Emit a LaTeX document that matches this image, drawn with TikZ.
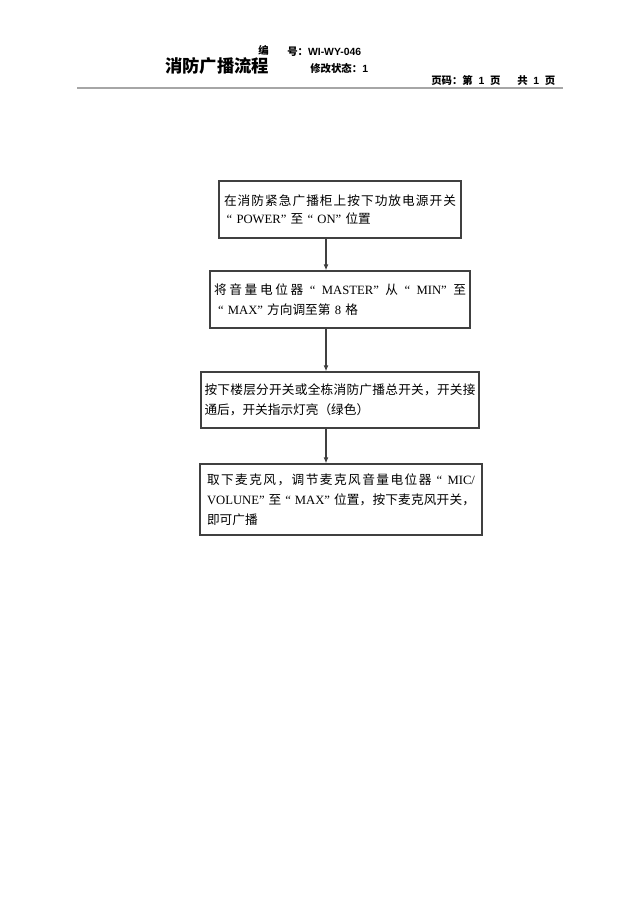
\documentclass[tikz,border=0pt]{standalone}
\usepackage{fontspec}
\setmainfont{Liberation Serif}
\newfontfamily\cjk{Noto Sans CJK SC}
\newfontfamily\hsans{Liberation Sans}
\usetikzlibrary{arrows.meta}
\newcommand{\zh}[1]{{\cjk #1}}
\newcommand{\sg}{\hspace{0pt plus 1fill}}
\newcommand{\sgs}{\hspace{0.3em plus 1fill}}
\newcommand{\spreadline}[2]{\leavevmode\hbox to #1{#2}}
\tikzset{
  flowbox/.style={draw=black!75, line width=0.9pt, rectangle, align=left,
    font=\fontsize{9.5pt}{15pt}\selectfont, inner ysep=0pt},
  flowarr/.style={draw=black!75, line width=0.8pt, -{Latex[length=4.5pt,width=3.6pt]}},
  headsmall/.style={font=\fontsize{7.8pt}{9pt}\selectfont\bfseries, inner sep=0pt, anchor=west},
}
\begin{document}
\begin{tikzpicture}[x=0.75pt,y=-0.75pt]
\useasboundingbox (0,0) rectangle (640,905);
\fill[white] (0,0) rectangle (640,905);

% header
\node[inner sep=0pt, anchor=west, font=\fontsize{13pt}{14pt}\selectfont\cjk\bfseries] (title) at (165,66) {消防广播流程};
\node[headsmall] (bian) at (258,50) {\cjk 编};
\node[headsmall] (hao) at (287,52) {{\cjk 号：}{\hsans WI-WY-046}};
\node[headsmall] (xiugai) at (310,68) {{\cjk 修改状态：}{\hsans 1}};
\node[headsmall] (yema) at (431,81) {\makebox[93pt][s]{{\cjk 页码：第} {\hsans 1} {\cjk 页} \hspace{4pt} {\cjk 共} {\hsans 1} {\cjk 页}}};
\coordinate (hl) at (77,88);
\coordinate (hr) at (563,88);
\draw[gray!70, line width=1.5pt] (hl) -- (hr);

% boxes
\node[flowbox, text width=174pt, inner xsep=3.75pt, minimum height=42.75pt,
  font=\fontsize{9.5pt}{14pt}\selectfont] (b1) at (340,209.5)
  {\spreadline{174pt}{\cjk 在\sg 消\sg 防\sg 紧\sg 急\sg 广\sg 播\sg 柜\sg 上\sg 按\sg 下\sg 功\sg 放\sg 电\sg 源\sg 开\sg 关}\\
   \hspace*{2pt}“ POWER” \zh{至} “ ON” \zh{位置}};

\node[flowbox, text width=189pt, inner xsep=3pt, minimum height=42.75pt] (b2) at (340,299.5)
  {\spreadline{189pt}{\zh{将}\sg\zh{音}\sg\zh{量}\sg\zh{电}\sg\zh{位}\sg\zh{器}\sgs “\sgs MASTER”\sgs\zh{从}\sgs “\sgs MIN”\sgs\zh{至}}\\
   \hspace*{3pt}“ MAX” \zh{方向调至第} 8 \zh{格}};

\node[flowbox, text width=203.25pt, inner xsep=2.6pt, minimum height=42pt] (b3) at (340,400)
  {\spreadline{203.25pt}{\cjk 按\sg 下\sg 楼\sg 层\sg 分\sg 开\sg 关\sg 或\sg 全\sg 栋\sg 消\sg 防\sg 广\sg 播\sg 总\sg 开\sg 关\sg ，\sg 开\sg 关\sg 接}\\
   \zh{通后，开关指示灯亮（绿色）}};

\node[flowbox, text width=201pt, inner xsep=5.25pt, minimum height=53.25pt] (b4) at (341,499.5)
  {\spreadline{201pt}{\zh{取}\sg\zh{下}\sg\zh{麦}\sg\zh{克}\sg\zh{风}\sg\zh{，}\sg\zh{调}\sg\zh{节}\sg\zh{麦}\sg\zh{克}\sg\zh{风}\sg\zh{音}\sg\zh{量}\sg\zh{电}\sg\zh{位}\sg\zh{器}\sgs “\sgs MIC/}\\
   \spreadline{201pt}{VOLUNE”\sgs\zh{至}\sgs “\sgs MAX”\sgs\zh{位}\sg\zh{置}\sg\zh{，}\sg\zh{按}\sg\zh{下}\sg\zh{麦}\sg\zh{克}\sg\zh{风}\sg\zh{开}\sg\zh{关}\sg\zh{，}}\\
   \zh{即可广播}};

% connectors
\coordinate (ax) at (326,0);
\draw[flowarr] (b1.south -| ax) -- (b2.north -| ax);
\draw[flowarr] (b2.south -| ax) -- (b3.north -| ax);
\draw[flowarr] (b3.south -| ax) -- (b4.north -| ax);
\end{tikzpicture}
\end{document}
